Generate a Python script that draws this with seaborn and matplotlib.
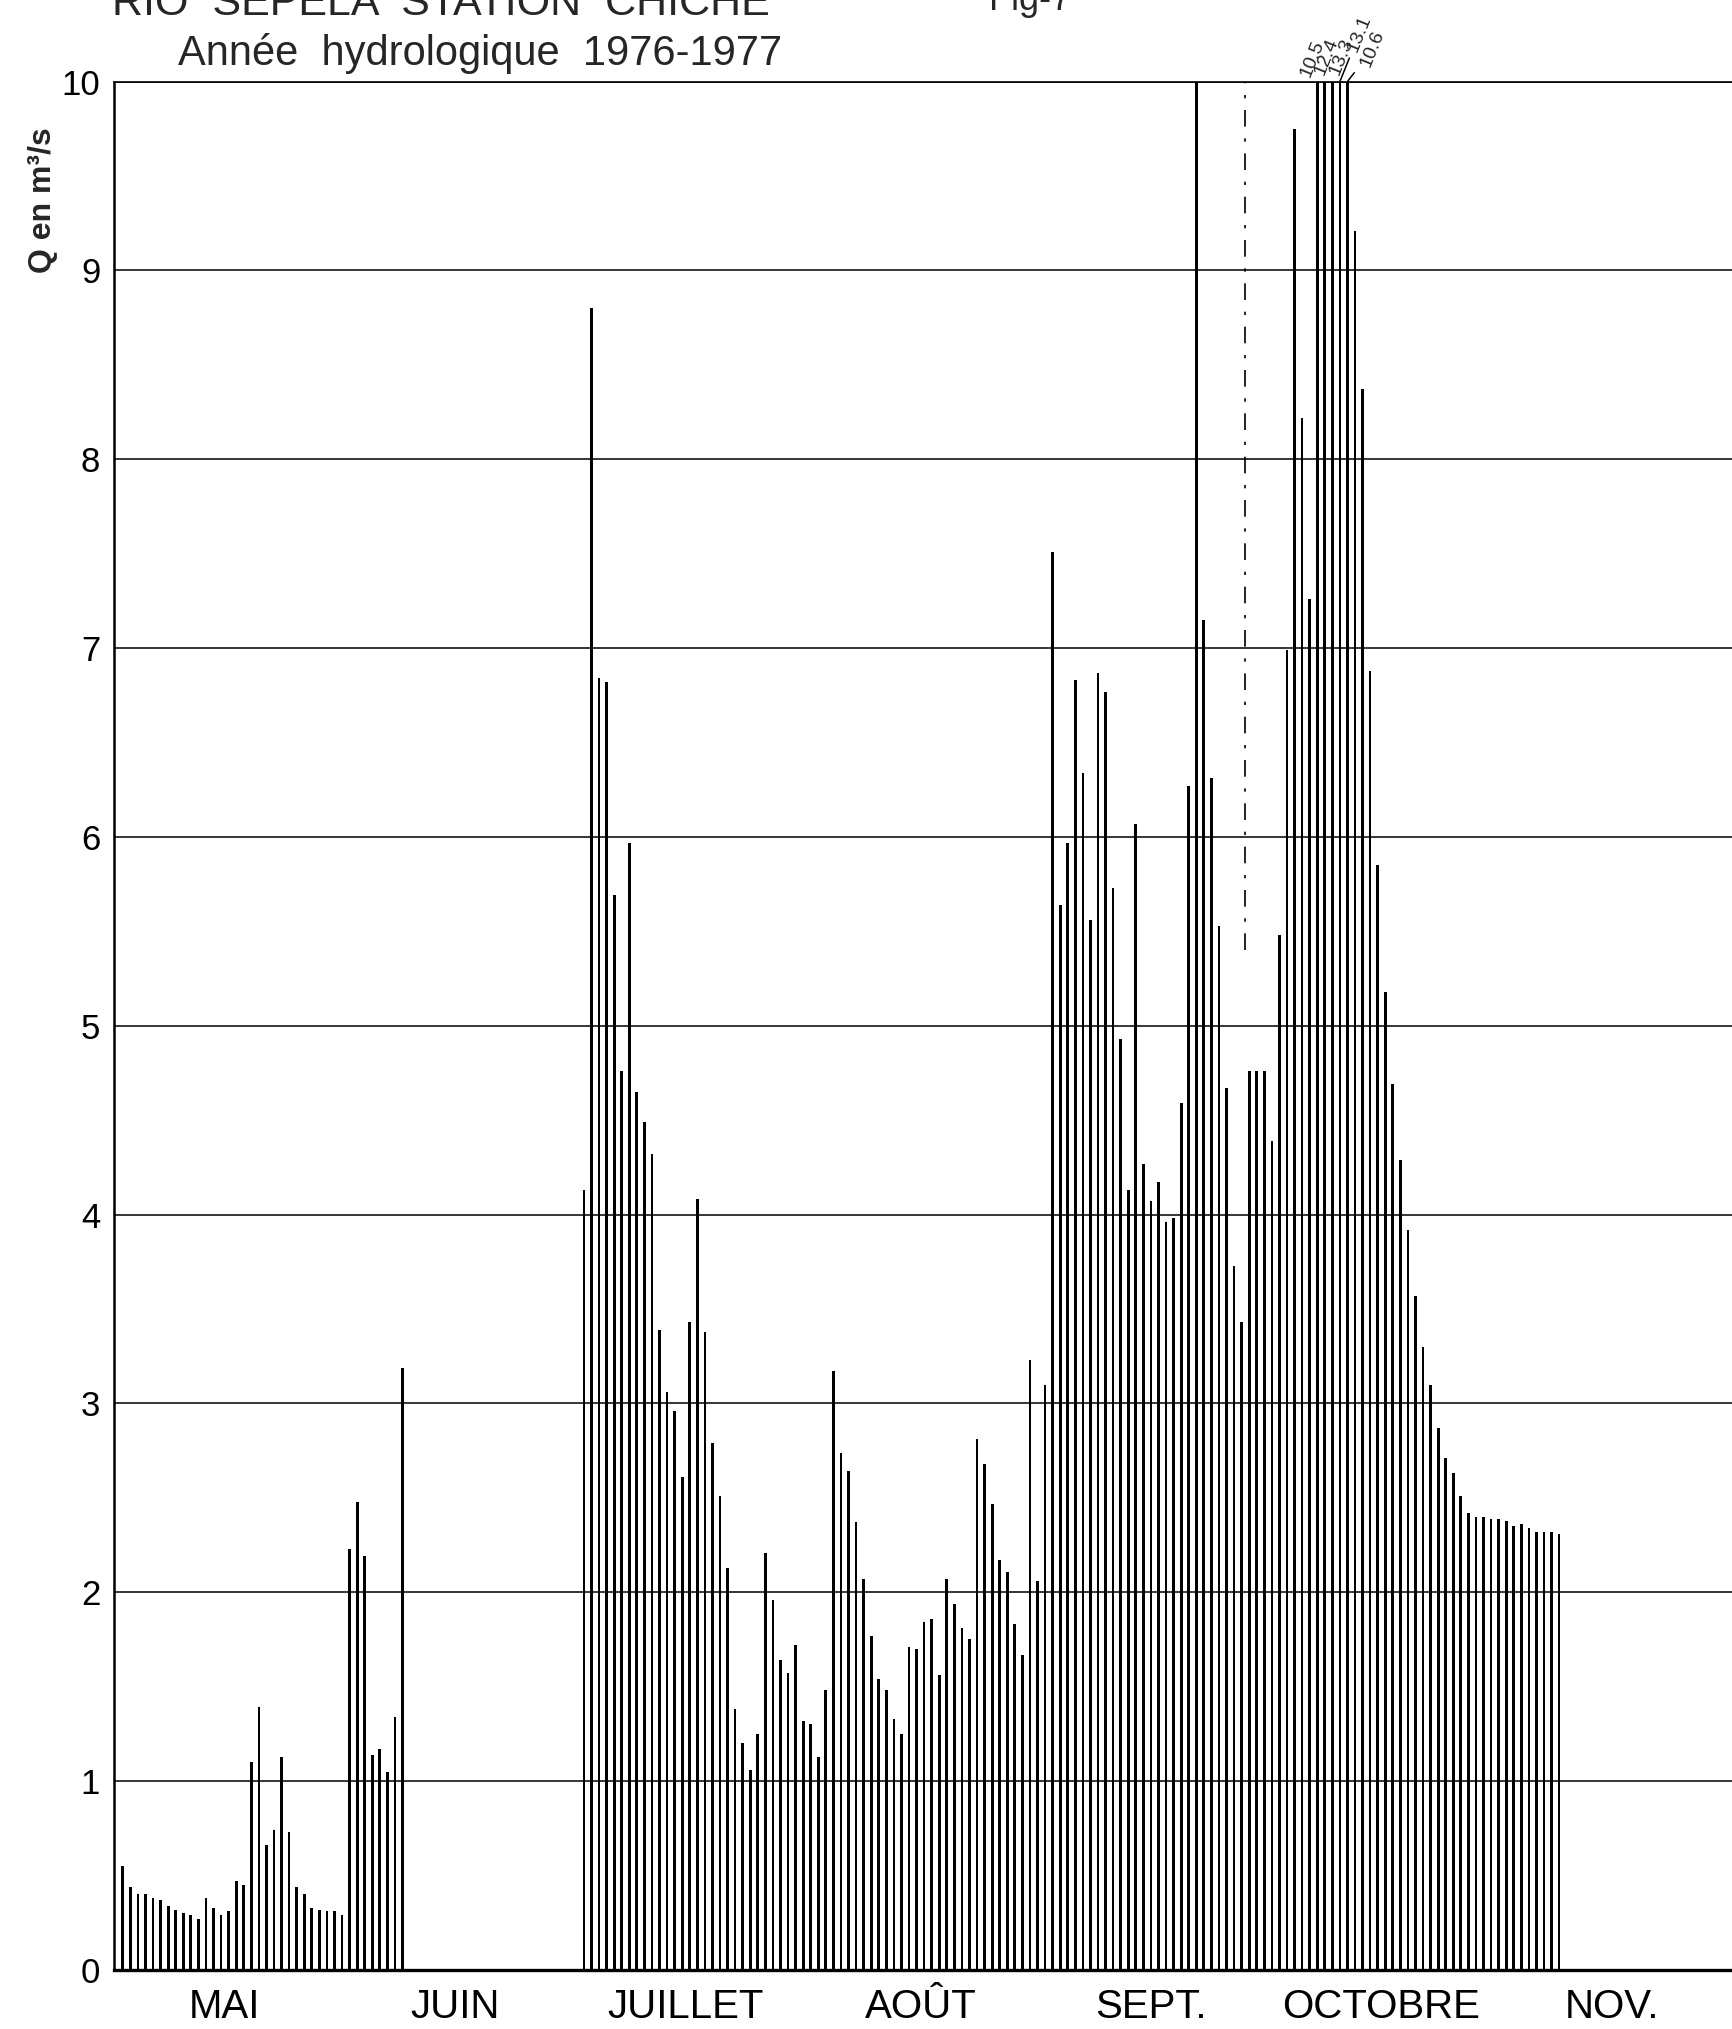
import matplotlib
matplotlib.use("Agg")
import numpy as np
import pandas as pd
import seaborn as sns
import matplotlib.pyplot as plt

# Débits journaliers (m3/s), Rio Sepela à Chiche, 1976-1977
mai = [0.55, 0.44, 0.40, 0.40, 0.38, 0.37, 0.34, 0.32, 0.30, 0.29, 0.27,
       0.38, 0.33, 0.29, 0.31, 0.47, 0.45, 1.10, 1.39, 0.66, 0.74, 1.13,
       0.73, 0.44, 0.40, 0.33, 0.32, 0.31, 0.31, 0.29, 2.23]
juin = [2.48, 2.19, 1.14, 1.17, 1.05, 1.34, 3.19]
juillet = [4.13, 8.80, 6.84, 6.82, 5.69, 4.76, 5.97, 4.65, 4.49, 4.32, 3.39,
           3.06, 2.96, 2.61, 3.43, 4.08, 3.38, 2.79, 2.51, 2.13, 1.38, 1.20,
           1.06, 1.25, 2.21, 1.96, 1.64, 1.57, 1.72, 1.32, 1.30]
aout = [1.13, 1.48, 3.17, 2.74, 2.64, 2.37, 2.07, 1.77, 1.54, 1.48, 1.33,
        1.25, 1.71, 1.70, 1.84, 1.86, 1.56, 2.07, 1.94, 1.81, 1.75, 2.81,
        2.68, 2.47, 2.17, 2.11, 1.83, 1.67, 3.23, 2.06, 3.10]
sept = [7.51, 5.64, 5.97, 6.83, 6.34, 5.56, 6.87, 6.77, 5.73, 4.93, 4.13,
        6.07, 4.27, 4.07, 4.17, 3.96, 3.98, 4.59, 6.27, 10.0, 7.15, 6.31,
        5.53, 4.67, 3.73, 3.43, 4.76, 4.76, 4.76, 4.39]
octobre = [5.48, 6.99, 9.75, 8.22, 7.26, 10.5, 12.4, 13.3, 13.1, 10.6, 9.21,
           8.37, 6.88, 5.85, 5.18, 4.69, 4.29, 3.92, 3.57, 3.30, 3.10, 2.87,
           2.71, 2.63, 2.51, 2.42, 2.40, 2.40, 2.39, 2.39, 2.38]
novembre = [2.35, 2.36, 2.34, 2.32, 2.32, 2.32, 2.31]

mois_noms = ["MAI", "JUIN", "JUILLET", "AOÛT", "SEPT.", "OCTOBRE", "NOV."]
mois_jours = [31, 30, 31, 31, 30, 31, 30]
series = [mai, juin, juillet, aout, sept, octobre, novembre]

debuts = np.concatenate([[0], np.cumsum(mois_jours)[:-1]])
jours, debits = [], []
for d, s in zip(debuts, series):
    jours += list(d + np.arange(len(s)))
    debits += s
df = pd.DataFrame({"jour": jours, "q": debits})

sns.set_style("white")
plt.rcParams["font.family"] = ["Liberation Sans", "DejaVu Sans"]

fig = plt.figure(figsize=(17.33, 20.29), dpi=100)
ax = fig.add_axes([0.0658, 0.0291, 0.9342, 0.9307])

sns.barplot(data=df, x="jour", y="q", native_scale=True, color="black",
            saturation=1, width=0.36, errorbar=None, linewidth=0, ax=ax)

ax.set_xlim(-1.16, 213.0)
ax.set_ylim(0, 10)
ax.set_xlabel("")
ax.set_ylabel("")

# axe des y
ax.set_yticks(range(11))
ax.tick_params(axis="y", length=7, width=1.1, pad=3, labelsize=25, colors="black")
ax.yaxis.grid(True, color="black", lw=1.1)

# mois : limites en ticks, noms au milieu
ax.set_xticks(debuts - 0.5)
ax.set_xticklabels([])
ax.set_xticks(debuts + np.array(mois_jours) / 2 - 2, labels=mois_noms, minor=True)
ax.tick_params(axis="x", which="major", length=10, width=1.3, direction="out",
               colors="black")
ax.tick_params(axis="x", which="minor", length=0, pad=13, labelsize=29,
               labelcolor="black")

for side, lw in [("top", 1.2), ("left", 1.8), ("bottom", 2.4)]:
    ax.spines[side].set_color("black")
    ax.spines[side].set_linewidth(lw)
ax.spines["right"].set_visible(False)

# trait mixte vertical (fin septembre)
ax.axvline(148.4, ymin=0.54, ymax=1, color="black", lw=1.2,
           ls=(0, (10, 7, 2, 7)))

# valeurs hors échelle
hors = df[df["q"] > 10].reset_index(drop=True)
decal = [(-12, 5), (-5, 7), (2, 7), (12, 30), (18, 15)]
for k, row in hors.iterrows():
    dx, dy = decal[k]
    props = dict(arrowstyle="-", lw=1.1, color="black", shrinkA=0, shrinkB=0) if k >= 3 else None
    ax.annotate(f"{row['q']:.1f}", xy=(row["jour"], 10), xytext=(dx, dy),
                textcoords="offset pixels", rotation=68, rotation_mode="anchor",
                ha="left", va="center", fontsize=14, annotation_clip=False,
                arrowprops=props)

fig.text(0.2545, 1 - 15 / 2029, "RIO  SEPELA  STATION  CHICHE", ha="center",
         va="baseline", fontsize=31)
fig.text(1030 / 1733, 1 - 10 / 2029, "Fig-7", ha="center", va="baseline",
         fontsize=26)
fig.text(480 / 1733, 1 - 54 / 2029, "Année  hydrologique  1976-1977",
         ha="center", va="center", fontsize=30)
fig.text(43 / 1733, 1 - 200 / 2029, "Q en m³/s", rotation=90, ha="center",
         va="center", fontsize=23, fontweight="bold")

fig.savefig("out.png", dpi=100)
